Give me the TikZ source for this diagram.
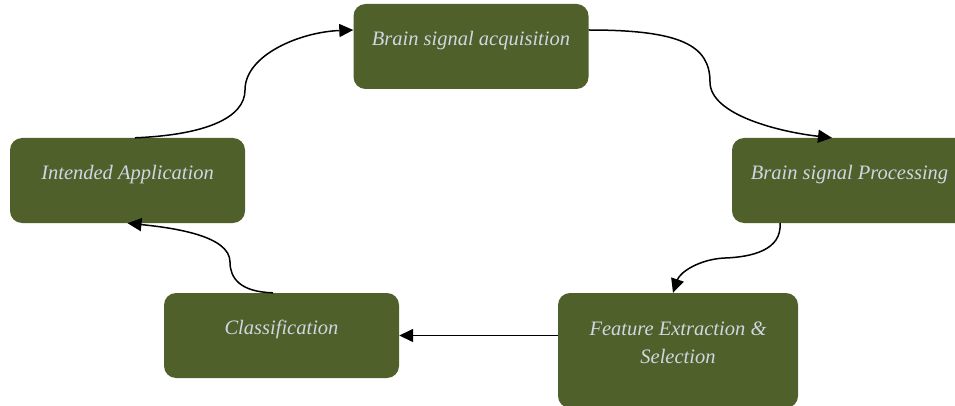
\documentclass[tikz,border=0pt]{standalone}
\usepackage{fontspec}
\setmainfont{Liberation Serif}
\usetikzlibrary{arrows.meta}
\definecolor{boxgreen}{RGB}{79,96,42}
\definecolor{boxtext}{RGB}{205,216,226}
\tikzset{
  stage/.style={draw=none, fill=boxgreen, rounded corners=12pt,
    minimum width=235pt, minimum height=85pt, align=center,
    text=boxtext, font=\itshape\fontsize{20.5}{28}\selectfont,
    text depth=16pt},
  flow/.style={draw=black, line width=1.5pt,
    -{Triangle[length=14pt,width=13pt]}}
}
\begin{document}
\begin{tikzpicture}[x=1pt,y=-1pt]
  \useasboundingbox (0,0) rectangle (955,406);
  \begin{scope}
    \clip (0,0) rectangle (955,406);
    \node[stage] (acq)  at (471,46.5)   {Brain signal acquisition};
    \node[stage] (proc) at (849.5,180.5) {Brain signal Processing};
    \node[stage, minimum width=240pt, minimum height=115pt] (feat) at (678,350.5)
      {Feature Extraction \&\\Selection};
    \node[stage] (cls)  at (281.5,335.5) {Classification};
    \node[stage] (app)  at (127.5,180.5) {Intended Application};
  \end{scope}

  % acquisition -> processing
  \draw[flow] ([yshift=16.5pt]acq.east)
    .. controls (680,30) and (710,45) .. (710,82)
    .. controls (710,115) and (780,132) .. ([xshift=-17.5pt]proc.north);
  % processing -> feature extraction
  \draw[flow] ([xshift=-69.5pt]proc.south)
    .. controls (782,250) and (752,257) .. (725,258)
    .. controls (700,259) and (680,272) .. ([xshift=-5pt]feat.north);
  % feature extraction -> classification
  \draw[flow] (cls.east -| feat.west) -- (cls.east);
  % classification -> intended application
  \draw[flow] ([xshift=-8.5pt]cls.north)
    .. controls (240,292) and (230,278) .. (230,262)
    .. controls (230,236) and (175,228) .. (app.south);
  % intended application -> acquisition
  \draw[flow] ([xshift=7.5pt]app.north)
    .. controls (205,135) and (245,118) .. (245,90)
    .. controls (245,55) and (300,32) .. ([yshift=16.5pt]acq.west);
\end{tikzpicture}
\end{document}
